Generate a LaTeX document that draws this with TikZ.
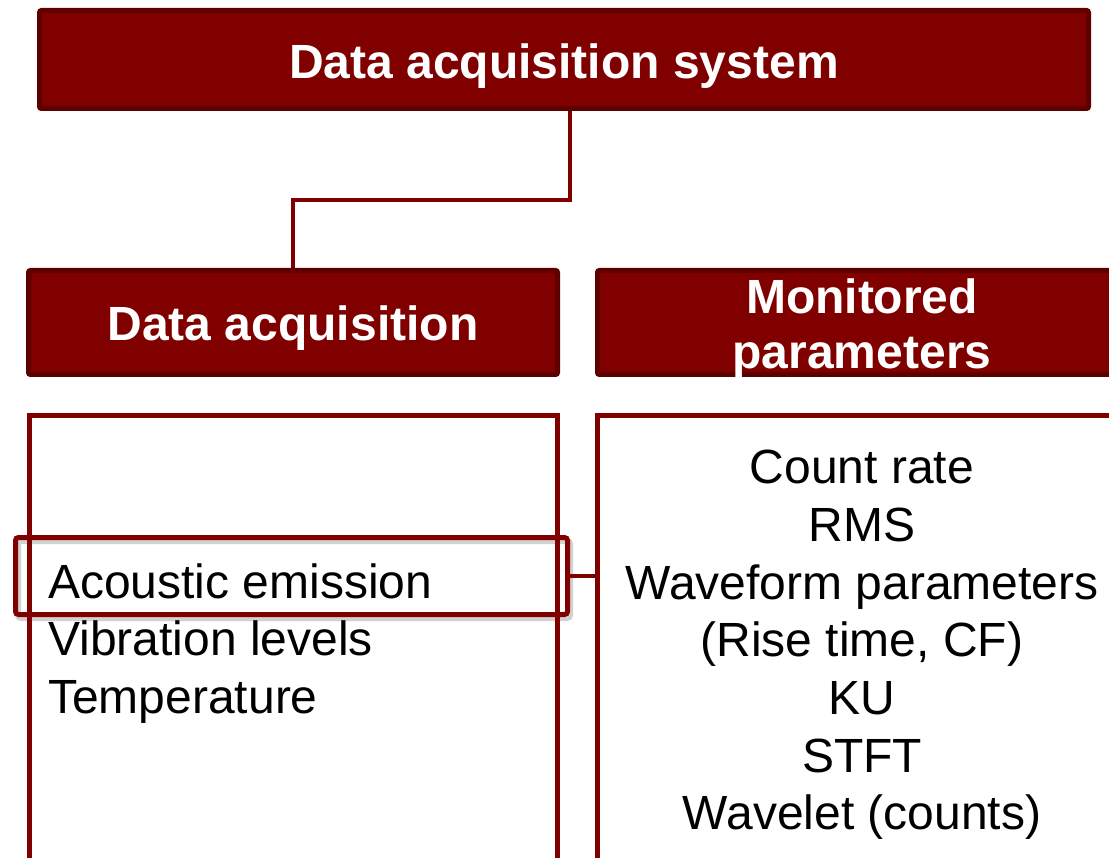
\documentclass[tikz,border=0pt]{standalone}
\usepackage{fontspec}
\setmainfont{Liberation Sans}
\definecolor{maroon}{HTML}{800000}
\definecolor{maroondark}{HTML}{5E0000}
\tikzset{
  hdr/.style={rectangle, fill=maroon, draw=maroondark, line width=5pt, rounded corners=2pt, inner sep=0pt},
  panel/.style={rectangle, draw=maroon, line width=5pt, inner sep=0pt},
  hlbox/.style={panel, rounded corners=3pt, minimum width=552pt, minimum height=77pt},
  hlshadow/.style={hlbox, draw=black, opacity=0.18, line width=6pt},
  link/.style={draw=maroon, line width=4pt},
  hdrtext/.style={text=white, font=\fontsize{48}{55}\selectfont\bfseries, inner sep=0pt},
  itemtext/.style={text=black, font=\fontsize{48}{57.6}\selectfont, inner sep=0pt}
}
\begin{document}
\begin{tikzpicture}[x=1pt,y=-1pt]
\useasboundingbox (0,0) rectangle (1109,858);

% header boxes
\node[hdr, minimum width=1049pt, minimum height=98pt] (sys) at (564,59.5) {};
\node[hdrtext, anchor=base] (systxt) at (564,79) {Data acquisition system};
\node[hdr, minimum width=529pt, minimum height=104pt] (acq) at (293,322.5) {};
\node[hdrtext, anchor=base] (acqtxt) at (293,341) {Data acquisition};
\node[hdr, minimum width=529pt, minimum height=104pt] (mon) at (862,322.5) {};
\node[hdrtext, anchor=base] (montxt1) at (862,314) {Monitored};
\node[hdrtext, anchor=base] (montxt2) at (862,369) {parameters};

% elbow link from the system box down to the acquisition box
\draw[link] ([xshift=5.5pt]sys.south) -- ++(0,89.5) -| (acq.north);

% content panels (running past the lower edge)
\node[hlshadow] (hlsh) at (294,579.5) {};
\node[panel, minimum width=528pt, minimum height=504.5pt] (lpanel) at (293.5,667.75) {};
\node[panel, minimum width=529.5pt, minimum height=504.5pt] (rpanel) at (862.25,667.75) {};

% highlighted entry and its link to the parameter list
\node[hlbox] (hl) at (291.5,576) {};
\draw[link] (hl.east) -- (hl.east -| rpanel.west);

% acquired signals
\node[itemtext, anchor=base west] (ae) at (48,598) {Acoustic emission};
\node[itemtext, anchor=base west] (vib) at (48,655.6) {Vibration levels};
\node[itemtext, anchor=base west] (temp) at (48,713.2) {Temperature};

% monitored parameters
\node[itemtext, anchor=base] (p1) at (862,484) {Count rate};
\node[itemtext, anchor=base] (p2) at (862,541.6) {RMS};
\node[itemtext, anchor=base] (p3) at (862,599.2) {Waveform parameters};
\node[itemtext, anchor=base] (p4) at (862,656.8) {(Rise time, CF)};
\node[itemtext, anchor=base] (p5) at (862,714.4) {KU};
\node[itemtext, anchor=base] (p6) at (862,772) {STFT};
\node[itemtext, anchor=base] (p7) at (862,829.6) {Wavelet (counts)};
\end{tikzpicture}
\end{document}
